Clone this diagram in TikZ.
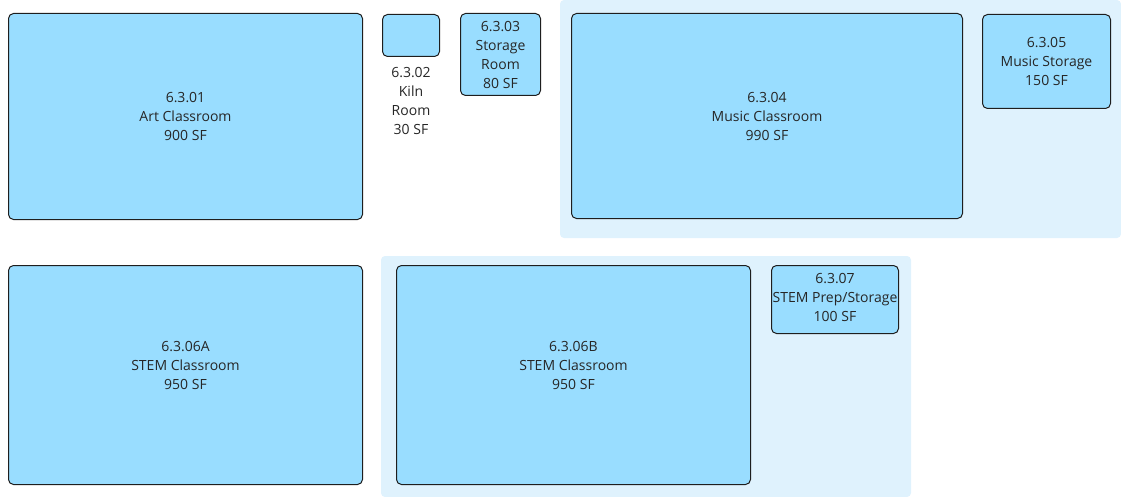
\documentclass[tikz,border=0pt]{standalone}
\usepackage{fontspec}
\setmainfont{Open Sans}
\usetikzlibrary{positioning}
\definecolor{roomblue}{RGB}{153,221,255}
\definecolor{zoneblue}{RGB}{223,242,253}
\definecolor{roomline}{RGB}{30,30,30}
\begin{document}
\begin{tikzpicture}[x=1pt,y=-1pt,
		room/.style={draw=roomline,fill=roomblue,line width=1pt,rounded corners=5pt,anchor=north west,align=center,inner sep=0pt,font=\fontsize{14}{19}\selectfont,text=black!85},
		zone/.style={fill=zoneblue,rounded corners=4pt}]
		\useasboundingbox (0,0) rectangle (1121,497);
		% shaded zones
		\fill[zone] (560,0) rectangle (1121,238);
		\fill[zone] (381,256) rectangle (911,497);
		
		% top row
		\node[room,minimum width=354pt,minimum height=206pt] (art) at (8,13) {6.3.01\\Art Classroom\\900 SF};
		\node[room,minimum width=57pt,minimum height=42pt] (kiln) at (382,14) {};
		\node[below=10pt of kiln,align=center,inner sep=0pt,font=\fontsize{14}{19}\selectfont,text=black!85] (kilnlbl) {6.3.02\\Kiln\\Room\\30 SF};
		\node[room,minimum width=80pt,minimum height=82pt] (stor) at (460,13) {6.3.03\\Storage\\Room\\80 SF};
		\node[room,minimum width=391pt,minimum height=205pt] (music) at (571,13) {6.3.04\\Music Classroom\\990 SF};
		\node[room,minimum width=128pt,minimum height=94pt] (mstor) at (982,14) {6.3.05\\Music Storage\\150 SF};
		
		% bottom row
		\node[room,minimum width=354pt,minimum height=219pt] (stema) at (8,265) {6.3.06A\\STEM Classroom\\950 SF\\\mbox{}};
		\node[room,minimum width=354pt,minimum height=219pt] (stemb) at (396,265) {6.3.06B\\STEM Classroom\\950 SF\\\mbox{}};
		\node[room,minimum width=127pt,minimum height=68pt] (prep) at (771,265) {6.3.07\\STEM Prep/Storage\\100 SF\\[-15pt]\mbox{}};
	\end{tikzpicture}
\end{document}
